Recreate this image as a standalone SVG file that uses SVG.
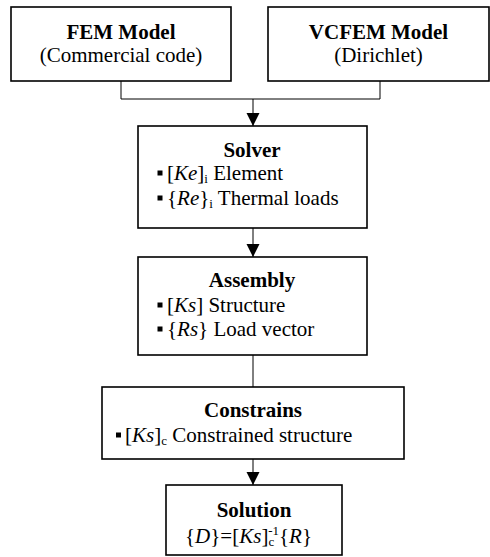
<svg xmlns="http://www.w3.org/2000/svg" width="490" height="557" viewBox="0 0 490 557">
<style>
.box{fill:#fff;stroke:#000;stroke-width:1.6}
.ln{fill:none;stroke:#000;stroke-width:1}
</style>
<defs>
<marker id="ah" markerUnits="userSpaceOnUse" markerWidth="13" markerHeight="14" viewBox="0 0 13 14" refX="13" refY="6.5" orient="auto">
<path d="M0,0 L13,6.5 L0,13 z" fill="#000"/>
</marker>
<rect id="b" width="5" height="5" fill="#000"/>
</defs>
<g id="connectors">
<path class="ln" d="M121 81 V99 H380 V81"/>
<path class="ln" d="M253 99 V126" marker-end="url(#ah)"/>
<path class="ln" d="M253 228 V257" marker-end="url(#ah)"/>
<path class="ln" d="M253 355 V387"/>
<path class="ln" d="M253 459 V485" marker-end="url(#ah)"/>
</g>
<g font-family="Liberation Serif" font-size="21" fill="#000">
<g id="fem">
<rect class="box" x="11" y="7" width="220" height="74"/>
<text font-family="Liberation Serif" font-weight="bold" text-anchor="middle" x="121" y="39">FEM Model</text>
<text font-family="Liberation Serif" text-anchor="middle" x="121" y="62">(Commercial code)</text>
</g>
<g id="vcfem">
<rect class="box" x="268" y="7" width="221" height="74"/>
<text font-family="Liberation Serif" font-weight="bold" text-anchor="middle" x="378.5" y="39">VCFEM Model</text>
<text font-family="Liberation Serif" text-anchor="middle" x="378.5" y="62">(Dirichlet)</text>
</g>
<g id="solver">
<rect class="box" x="138" y="126" width="229" height="102"/>
<text font-family="Liberation Serif" font-weight="bold" text-anchor="middle" x="252" y="157">Solver</text>
<use href="#b" x="157.5" y="170.5"/>
<text font-family="Liberation Serif" x="167" y="180">[<tspan font-style="italic">Ke</tspan>]<tspan font-size="13" dy="3">i</tspan><tspan dy="-3"> Element</tspan></text>
<use href="#b" x="157.5" y="195.5"/>
<text font-family="Liberation Serif" x="167" y="205">{<tspan font-style="italic">Re</tspan>}<tspan font-size="13" dy="3">i</tspan><tspan dy="-3"> Thermal loads</tspan></text>
</g>
<g id="assembly">
<rect class="box" x="138" y="257" width="229" height="98"/>
<text font-family="Liberation Serif" font-weight="bold" text-anchor="middle" x="252" y="287">Assembly</text>
<use href="#b" x="157.5" y="302.5"/>
<text font-family="Liberation Serif" x="167" y="312">[<tspan font-style="italic">Ks</tspan>] Structure</text>
<use href="#b" x="157.5" y="326.5"/>
<text font-family="Liberation Serif" x="167" y="336">{<tspan font-style="italic">Rs</tspan>} Load vector</text>
</g>
<g id="constrains">
<rect class="box" x="102" y="387" width="302" height="72"/>
<text font-family="Liberation Serif" font-weight="bold" text-anchor="middle" x="253" y="417">Constrains</text>
<use href="#b" x="116" y="432.5"/>
<text font-family="Liberation Serif" x="125" y="442">[<tspan font-style="italic">Ks</tspan>]<tspan font-size="13" dy="3">c</tspan><tspan dy="-3"> Constrained structure</tspan></text>
</g>
<g id="solution">
<rect class="box" x="166" y="485" width="176" height="70"/>
<text font-family="Liberation Serif" font-weight="bold" text-anchor="middle" x="254" y="517">Solution</text>
<text font-family="Liberation Serif" x="185" y="543">{<tspan font-style="italic">D</tspan>}=[<tspan font-style="italic">Ks</tspan>]<tspan font-size="13" dy="3">c</tspan><tspan font-size="13" dx="-6" dy="-11">-1</tspan><tspan dy="8">{<tspan font-style="italic">R</tspan>}</tspan></text>
</g>
</g>
</svg>
